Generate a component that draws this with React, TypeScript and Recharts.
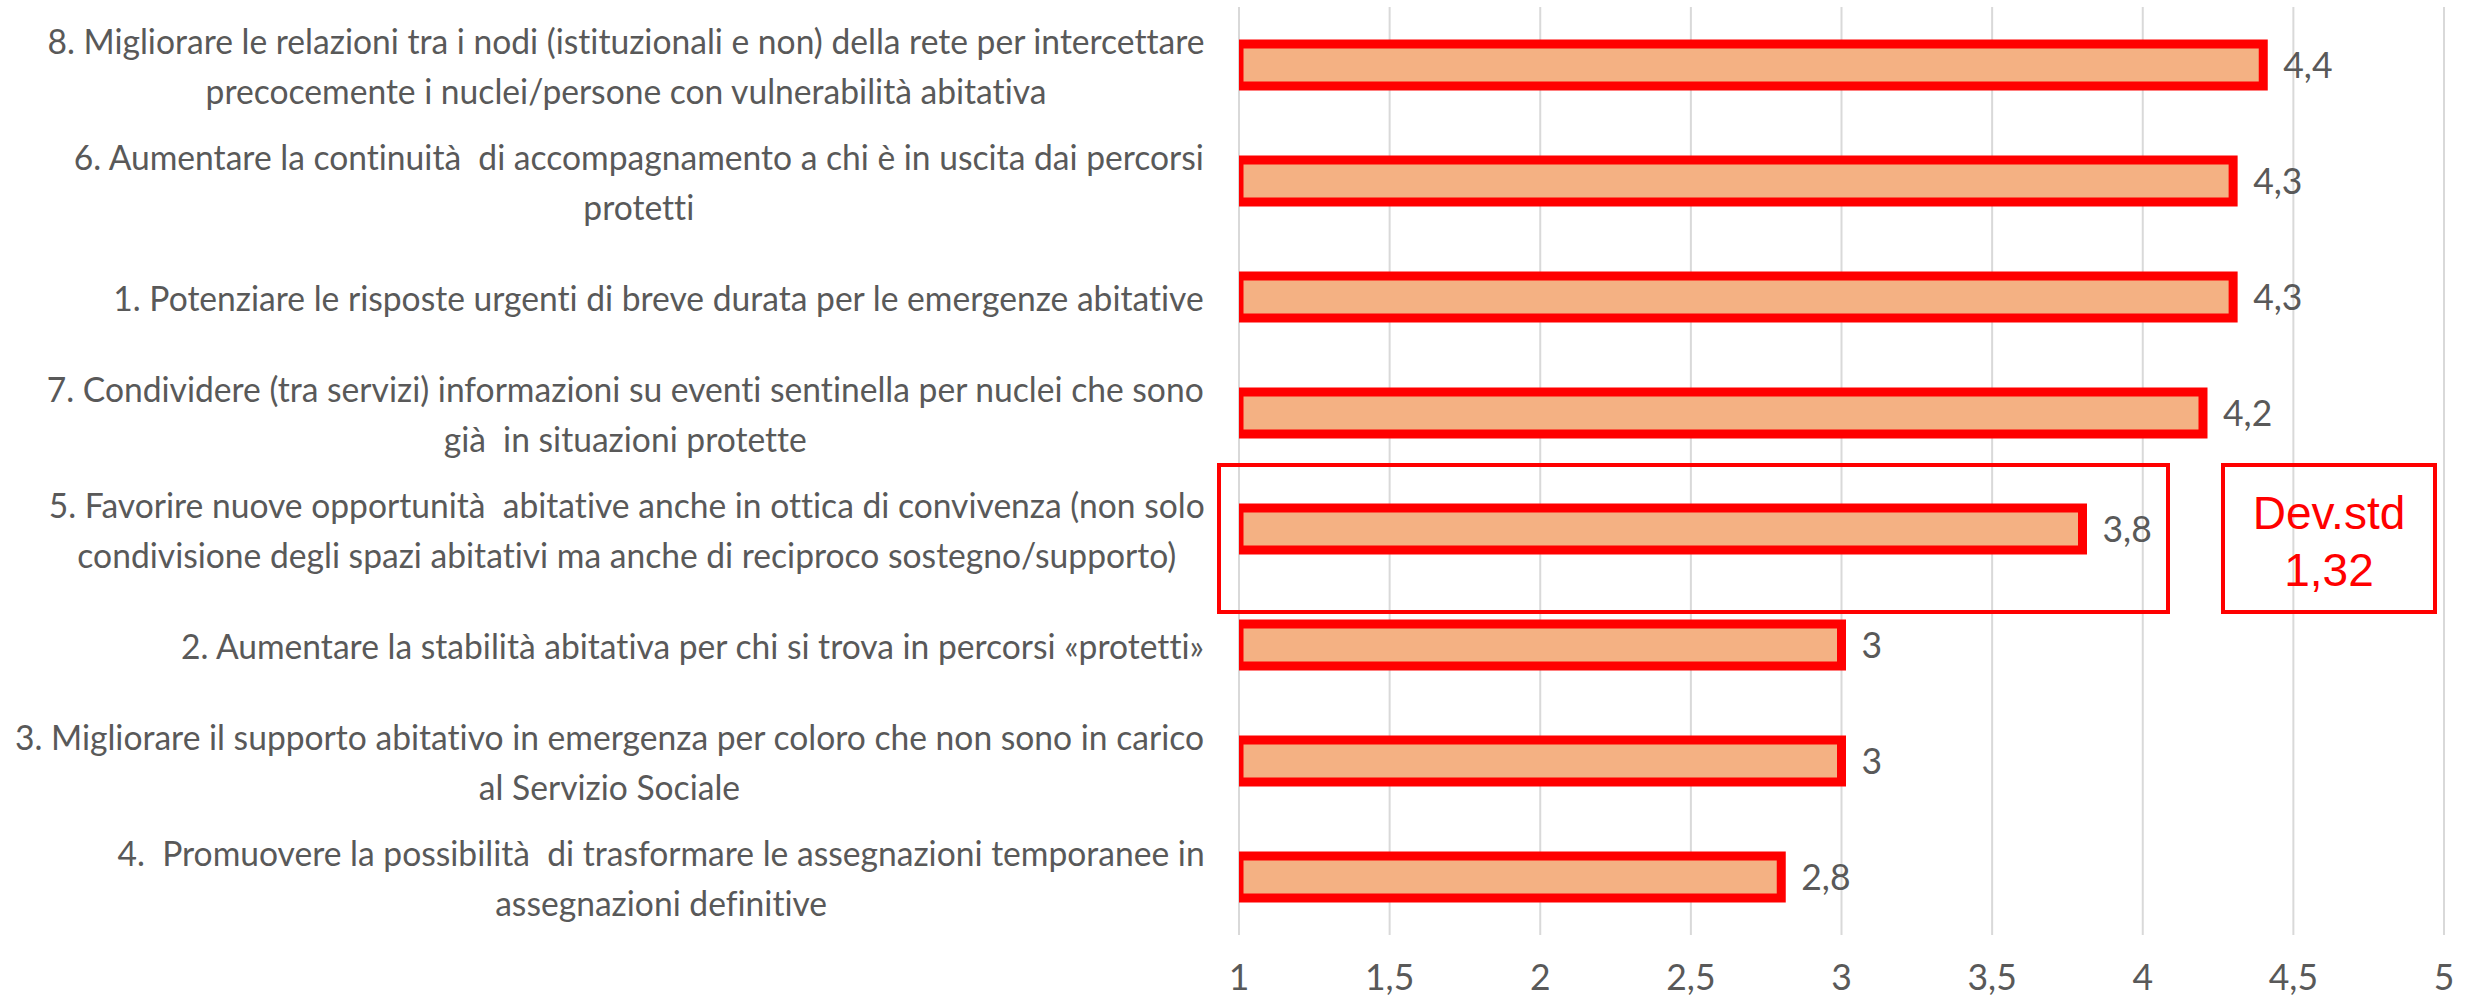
import { BarChart, Bar, XAxis, YAxis, CartesianGrid, LabelList } from 'recharts'

const CATEGORY_LINES: string[][] = [
  ['8. Migliorare le relazioni tra i nodi (istituzionali e non) della rete per intercettare', 'precocemente i nuclei/persone con vulnerabilità abitativa'],
  ['6. Aumentare la continuità  di accompagnamento a chi è in uscita dai percorsi', 'protetti'],
  ['1. Potenziare le risposte urgenti di breve durata per le emergenze abitative'],
  ['7. Condividere (tra servizi) informazioni su eventi sentinella per nuclei che sono', 'già  in situazioni protette'],
  ['5. Favorire nuove opportunità  abitative anche in ottica di convivenza (non solo', 'condivisione degli spazi abitativi ma anche di reciproco sostegno/supporto)'],
  ['2. Aumentare la stabilità abitativa per chi si trova in percorsi «protetti»'],
  ['3. Migliorare il supporto abitativo in emergenza per coloro che non sono in carico', 'al Servizio Sociale'],
  ['4.  Promuovere la possibilità  di trasformare le assegnazioni temporanee in', 'assegnazioni definitive'],
]
const VALUES = [4.4, 4.3, 4.3, 4.2, 3.8, 3, 3, 2.8]
const X_TICKS = [1, 1.5, 2, 2.5, 3, 3.5, 4, 4.5, 5]
const DEV_STD = ['Dev.std', '1,32']

const FONT = "Lato, 'Open Sans', sans-serif"
const TEXT_GREY = '#595959'
const LABEL_SIZE = 35
const NUM_SIZE = 37
const LINE_H = 50
// target width of the first label line, used to squeeze Lato to Calibri-ish proportions
const WIDEST_LINE_PX = 1158
const NO_LIGA = { whiteSpace: 'pre' as const, fontVariantLigatures: 'none', fontFeatureSettings: '"liga" 0, "clig" 0' }

const data = CATEGORY_LINES.map((_, i) => ({ key: String(i), value: VALUES[i] }))

let ctx: CanvasRenderingContext2D | null = null
function measure(s: string, size = LABEL_SIZE) {
  if (!ctx) ctx = document.createElement('canvas').getContext('2d')
  if (!ctx) return s.length * size * 0.45
  ctx.font = `${size}px ${FONT}`
  return ctx.measureText(s).width
}
let sx = 0
const squeeze = () => (sx ||= WIDEST_LINE_PX / measure(CATEGORY_LINES[0][0]))

const fmt = (v: number) => String(v).replace('.', ',')

function CategoryTick({ x, y, payload }: any) {
  const lines = CATEGORY_LINES[Number(payload.value)]
  const s = squeeze()
  const blockW = Math.max(...lines.map(l => measure(l))) * s
  const cx = x - 26 - blockW / 2
  const y0 = y + 14 - ((lines.length - 1) * LINE_H) / 2
  return (
    <g>
      {lines.map((l, i) => (
        <text key={i} transform={`translate(${cx},${y0 + i * LINE_H}) scale(${s},1)`} x={0} y={0}
          textAnchor="middle" fontFamily={FONT} fontSize={LABEL_SIZE} fill={TEXT_GREY} style={NO_LIGA}>
          {l}
        </text>
      ))}
    </g>
  )
}

function ValueTick({ x, y, payload }: any) {
  return (
    <text transform={`translate(${x},${y + 33}) scale(${squeeze()},1)`} x={0} y={0}
      textAnchor="middle" dominantBaseline="central" fontFamily={FONT} fontSize={NUM_SIZE} fill={TEXT_GREY}>
      {fmt(payload.value)}
    </text>
  )
}

function BarValue({ x, y, width, height, value }: any) {
  return (
    <text transform={`translate(${x + width + 20},${y + height / 2 - 1}) scale(${squeeze()},1)`} x={0} y={0}
      textAnchor="start" dominantBaseline="central" fontFamily={FONT} fontSize={NUM_SIZE} fill={TEXT_GREY}>
      {fmt(value)}
    </text>
  )
}

export default function App() {
  return (
    <div style={{ position: 'absolute', left: 0, top: 0, width: 2469, height: 1001, background: '#fff' }}>
      <BarChart width={2469} height={1001} data={data} layout="vertical"
        margin={{ top: 7, right: 25, bottom: 0, left: 0 }} barSize={42}>
        <CartesianGrid horizontal={false} stroke="#d9d9d9" strokeWidth={2} />
        <XAxis type="number" domain={[1, 5]} ticks={X_TICKS} allowDataOverflow
          axisLine={false} tickLine={false} height={66} tick={<ValueTick />} interval={0} />
        <YAxis type="category" dataKey="key" width={1239} axisLine={false} tickLine={false}
          tick={<CategoryTick />} interval={0} />
        <Bar dataKey="value" fill="#F4B183" stroke="#FF0000" strokeWidth={9} isAnimationActive={false}>
          <LabelList dataKey="value" content={<BarValue />} />
        </Bar>
      </BarChart>
      <div style={{ position: 'absolute', left: 1217, top: 463, width: 953, height: 151, border: '4px solid #FF0000', boxSizing: 'border-box' }} />
      <div style={{
        position: 'absolute', left: 2221, top: 463, width: 216, height: 151, border: '4px solid #FF0000',
        boxSizing: 'border-box', display: 'flex', flexDirection: 'column', alignItems: 'center', justifyContent: 'center',
        paddingTop: 6, color: '#FF0000', fontFamily: "'Liberation Sans', Arial, sans-serif", fontSize: 46, lineHeight: '57px',
      }}>
        {DEV_STD.map(t => <div key={t}>{t}</div>)}
      </div>
    </div>
  )
}
